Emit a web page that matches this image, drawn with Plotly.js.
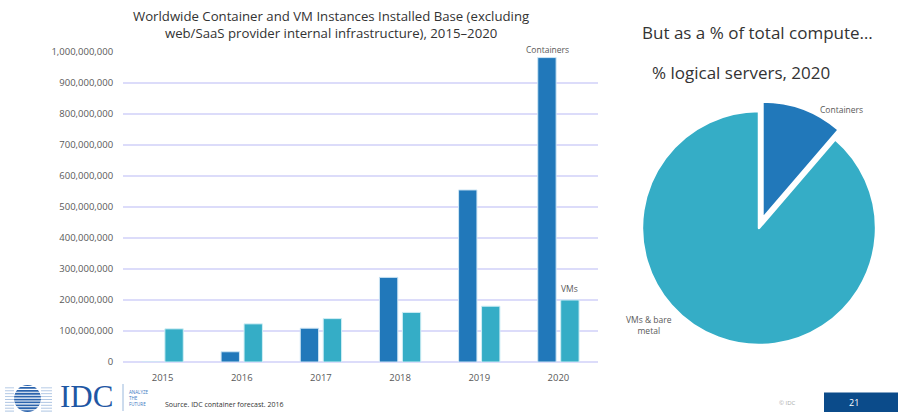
<!DOCTYPE html>
<html>
<head>
<meta charset="utf-8">
<script src="https://cdn.plot.ly/plotly-3.0.1.min.js"></script>
<style>html,body{margin:0;padding:0;background:#fff;}#chart{width:898px;height:412px;}</style>
</head>
<body>
<div id="chart"></div>
<script>
// ---- data ----
const years = ['2015', '2016', '2017', '2018', '2019', '2020'];
const containers = [0, 33000000, 109000000, 273000000, 555000000, 982000000];
const vms = [107000000, 123000000, 140000000, 160000000, 180000000, 200000000];
const pieLabels = ['Containers', 'VMs & bare metal'];
const pieValues = [11.3, 88.7];

const W = 898, H = 412;
const px = x => x / W;
const py = y => 1 - y / H;

const cBlue = '#2178BA';
const cTeal = '#35ADC6';
const txt = '#595959';
const font = 'Open Sans, Noto Sans, sans-serif';
const last = years.length - 1;

const traces = [
  {type: 'bar', name: 'Containers', x: years, y: containers, marker: {color: cBlue, line: {color: '#cfe6f5', width: 1}}},
  {type: 'bar', name: 'VMs', x: years, y: vms, marker: {color: cTeal, line: {color: '#cfeef5', width: 1}}},
  {type: 'pie', labels: pieLabels, values: pieValues, sort: false, direction: 'clockwise', rotation: 0,
   pull: [0.085, 0], marker: {colors: [cBlue, cTeal], line: {color: '#ffffff', width: 2.5}},
   textinfo: 'none', showlegend: false,
   domain: {x: [px(632), px(886)], y: [py(355), py(101)]}}
];

// IDC logo stripes (decoration)
const shapes = [];
shapes.push({type: 'circle', xref: 'paper', yref: 'paper', x0: px(14), x1: px(41), y0: py(412), y1: py(385), fillcolor: '#2a63ad', line: {width: 0}, layer: 'above'});
for (let k = 0; k < 10; k++) {
  const yy = 386.5 + k * 2.9;
  shapes.push({type: 'line', xref: 'paper', yref: 'paper', x0: px(5), x1: px(52), y0: py(yy), y1: py(yy), line: {color: '#ffffff', width: 1.1}, layer: 'above'});
  shapes.push({type: 'line', xref: 'paper', yref: 'paper', x0: px(5), x1: px(14), y0: py(yy + 1.4), y1: py(yy + 1.4), line: {color: '#9ab8dc', width: 0.8}, layer: 'above'});
  shapes.push({type: 'line', xref: 'paper', yref: 'paper', x0: px(41), x1: px(52), y0: py(yy + 1.4), y1: py(yy + 1.4), line: {color: '#9ab8dc', width: 0.8}, layer: 'above'});
}
shapes.push({type: 'line', xref: 'paper', yref: 'paper', x0: px(123), x1: px(123), y0: py(384), y1: py(411), line: {color: '#9ab8dc', width: 1}});
shapes.push({type: 'rect', xref: 'paper', yref: 'paper', x0: px(824), x1: px(898), y0: py(412), y1: py(392.5), fillcolor: '#0b4b8a', line: {width: 0}});

const annotations = [
  {xref: 'paper', yref: 'paper', x: px(331), y: py(25), text: 'Worldwide Container and VM Instances Installed Base (excluding<br>web/SaaS provider internal infrastructure), 2015–2020',
   showarrow: false, xanchor: 'center', yanchor: 'middle', font: {family: font, size: 13.2, color: '#333333'}, align: 'center'},
  {xref: 'x', yref: 'y', x: last, y: containers[last], xshift: -11, yshift: 1, text: 'Containers', showarrow: false, yanchor: 'bottom', font: {family: font, size: 8.5, color: txt}},
  {xref: 'x', yref: 'y', x: last, y: vms[last], xshift: 11, yshift: 4, text: 'VMs', showarrow: false, yanchor: 'bottom', font: {family: font, size: 8.5, color: txt}},
  {xref: 'paper', yref: 'paper', x: px(757), y: py(33), text: 'But as a % of total compute…', showarrow: false, xanchor: 'center', yanchor: 'middle', font: {family: font, size: 17, color: '#333333'}},
  {xref: 'paper', yref: 'paper', x: px(741), y: py(72), text: '% logical servers, 2020', showarrow: false, xanchor: 'center', yanchor: 'middle', font: {family: font, size: 17, color: '#333333'}},
  {xref: 'paper', yref: 'paper', x: px(841), y: py(109), text: 'Containers', showarrow: false, xanchor: 'center', yanchor: 'middle', font: {family: font, size: 8.5, color: txt}},
  {xref: 'paper', yref: 'paper', x: px(649), y: py(325), text: 'VMs & bare<br>metal', showarrow: false, xanchor: 'center', yanchor: 'middle', font: {family: font, size: 8.5, color: txt}, align: 'center'},
  {xref: 'paper', yref: 'paper', x: px(86), y: py(396), text: 'IDC', showarrow: false, xanchor: 'center', yanchor: 'middle', font: {family: 'Liberation Serif, DejaVu Serif, serif', size: 31, color: '#1f57a4'}},
  {xref: 'paper', yref: 'paper', x: px(127), y: py(398), text: 'ANALYZE<br>THE<br>FUTURE', showarrow: false, xanchor: 'left', yanchor: 'middle', align: 'left', font: {family: font, size: 4.5, color: '#3a78c2'}},
  {xref: 'paper', yref: 'paper', x: px(163), y: py(404), text: 'Source. IDC container forecast. 2016', showarrow: false, xanchor: 'left', yanchor: 'middle', font: {family: font, size: 7, color: '#333333'}},
  {xref: 'paper', yref: 'paper', x: px(787), y: py(403), text: '© IDC', showarrow: false, xanchor: 'center', yanchor: 'middle', font: {family: font, size: 6, color: '#aaaaaa'}},
  {xref: 'paper', yref: 'paper', x: px(854), y: py(402), text: '21', showarrow: false, xanchor: 'center', yanchor: 'middle', font: {family: font, size: 9, color: '#ffffff'}}
];

const layout = {
  width: W, height: H,
  margin: {l: 0, r: 0, t: 0, b: 0},
  paper_bgcolor: '#ffffff', plot_bgcolor: '#ffffff',
  showlegend: false,
  barmode: 'group', bargap: 0.42, bargroupgap: 0.2,
  xaxis: {type: 'category', domain: [px(123), px(598)], range: [-0.5, years.length - 0.5], autorange: false,
          showgrid: false, showline: false, zeroline: false,
          ticks: 'outside', ticklen: 7, tickcolor: 'rgba(0,0,0,0)',
          tickfont: {family: font, size: 9.5, color: txt}},
  yaxis: {domain: [py(362), py(52)], range: [0, 1000000000], autorange: false, dtick: 100000000, tickformat: ',d',
          showgrid: true, gridcolor: '#dcdcfa', gridwidth: 1.5, zeroline: true, zerolinecolor: '#dcdcfa', zerolinewidth: 1.5,
          showline: false, ticks: 'outside', ticklen: 7, tickcolor: 'rgba(0,0,0,0)', tickfont: {family: font, size: 9.5, color: txt}},
  shapes: shapes,
  annotations: annotations
};

Plotly.newPlot('chart', traces, layout, {displayModeBar: false});
</script>
</body>
</html>
